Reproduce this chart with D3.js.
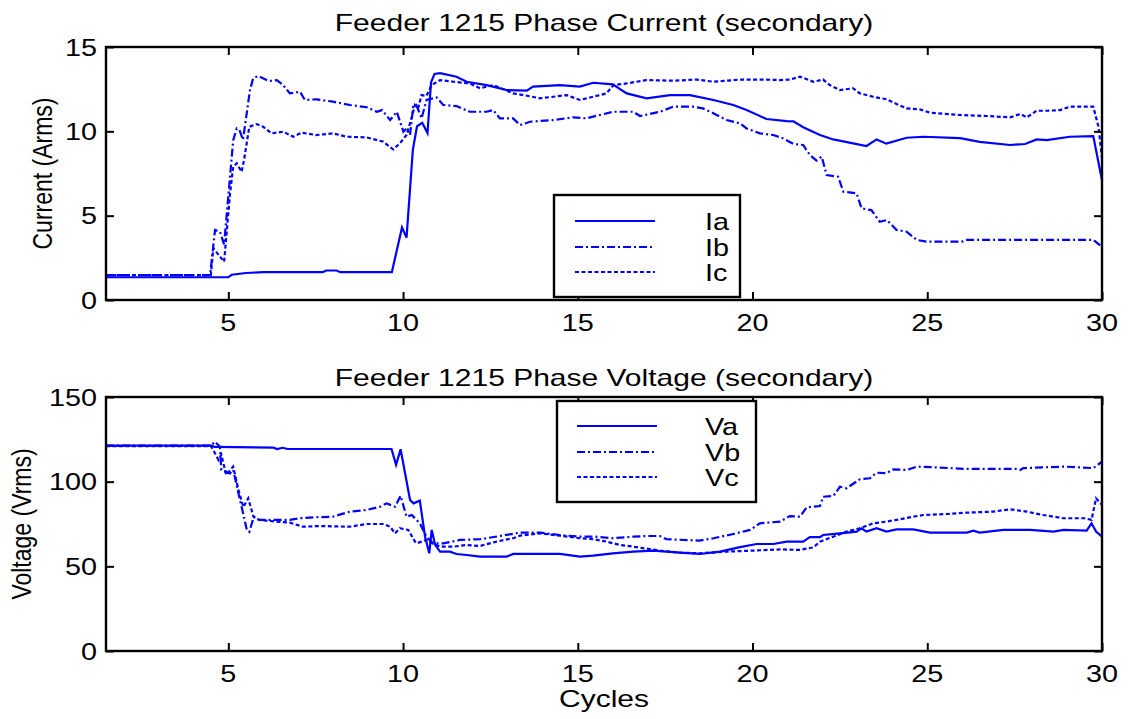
<!DOCTYPE html>
<html>
<head>
<meta charset="utf-8">
<script src="https://cdn.jsdelivr.net/npm/d3@7"></script>
<style>
  body { margin: 0; background: #fff; }
  text { font-family: "Liberation Sans", Arial, sans-serif; font-size: 24px; fill: #000; }
  text.ylab { font-size: 23px; }
</style>
</head>
<body>
<svg id="chart" width="1128" height="719"></svg>
<script>
// Cycle ticks shared by both panels
const cycleTicks = [5, 10, 15, 20, 25, 30];
const currentTicks = [0, 5, 10, 15];
const voltageTicks = [0, 50, 100, 150];

// Phase currents (Arms) as [cycle, value]
const iaData = [[1.5,1.35],[5.0,1.35],[5.1,1.5],[5.5,1.6],[6.0,1.65],[7.7,1.65],[7.8,1.75],[8.1,1.75],[8.2,1.65],[9.68,1.65],[9.97,4.3],[10.1,3.7],[10.28,8.9],[10.4,10.3],[10.55,10.5],[10.7,9.9],[10.8,12.9],[10.9,13.4],[11.06,13.45],[11.53,13.24],[11.82,12.94],[12.39,12.74],[12.96,12.45],[13.54,12.41],[13.72,12.65],[14.49,12.74],[15.06,12.65],[15.44,12.88],[16.0,12.78],[16.4,12.25],[16.97,11.96],[17.64,12.15],[18.21,12.15],[18.88,11.86],[19.45,11.56],[19.83,11.26],[20.4,10.73],[20.98,10.61],[21.17,10.59],[21.45,10.24],[21.93,9.78],[22.31,9.52],[22.88,9.29],[23.26,9.13],[23.55,9.52],[23.83,9.27],[24.41,9.62],[24.89,9.68],[25.94,9.6],[26.5,9.38],[27.37,9.19],[27.8,9.25],[28.13,9.52],[28.42,9.48],[29.08,9.68],[29.75,9.72],[30.0,7.1]];
const ibData = [[1.5,1.48],[4.48,1.48],[4.62,4.15],[4.76,4.05],[4.88,3.3],[5.14,9.48],[5.24,10.17],[5.32,10.07],[5.42,9.5],[5.62,12.45],[5.71,13.14],[5.86,13.28],[6.15,12.98],[6.39,13.03],[6.57,12.74],[6.76,12.25],[7.05,12.35],[7.19,11.86],[7.52,11.9],[7.99,11.76],[8.48,11.56],[8.96,11.43],[9.25,11.16],[9.4,11.26],[9.63,10.67],[9.82,11.16],[10.01,9.98],[10.1,10.17],[10.2,9.78],[10.29,11.46],[10.38,11.56],[10.53,10.77],[10.67,11.86],[10.96,12.01],[11.15,11.56],[11.53,11.5],[11.91,11.16],[12.39,11.16],[12.58,11.26],[12.77,10.77],[13.15,10.77],[13.35,10.37],[13.63,10.57],[14.3,10.67],[14.87,10.83],[15.25,10.77],[15.63,10.97],[16.02,11.16],[16.59,11.16],[16.78,10.91],[17.35,11.16],[17.73,11.46],[18.3,11.46],[18.58,11.36],[18.88,11.07],[19.26,10.67],[19.64,10.47],[19.83,10.17],[20.21,9.88],[20.6,9.78],[20.88,9.58],[21.17,9.25],[21.45,9.19],[21.64,8.6],[21.83,8.26],[21.98,8.5],[22.12,7.41],[22.45,7.31],[22.6,6.42],[22.98,6.32],[23.12,5.43],[23.4,5.33],[23.64,4.64],[23.85,4.74],[24.12,4.15],[24.41,4.05],[24.7,3.56],[24.98,3.46],[26.0,3.46],[26.1,3.56],[29.75,3.56],[30.0,3.16]];
const icData = [[1.5,1.48],[4.5,1.48],[4.57,3.08],[4.75,2.6],[4.88,2.27],[5.05,6.34],[5.14,7.9],[5.24,8.1],[5.38,7.6],[5.45,8.3],[5.6,10.27],[5.81,10.43],[6.0,10.27],[6.24,9.88],[6.57,9.98],[6.86,9.68],[7.1,9.92],[7.52,9.78],[7.99,9.88],[8.39,9.68],[8.96,9.64],[9.43,9.39],[9.72,8.93],[9.91,9.29],[10.1,9.78],[10.24,10.77],[10.34,11.56],[10.43,11.36],[10.53,12.15],[10.67,12.1],[10.82,12.74],[11.06,13.04],[11.44,12.94],[11.91,12.84],[12.2,12.55],[12.58,12.74],[13.15,12.25],[13.44,12.15],[13.92,11.96],[14.3,12.05],[14.68,12.15],[15.06,11.86],[15.44,12.05],[15.82,12.25],[16.02,12.74],[16.4,12.84],[16.97,13.04],[17.73,13.0],[18.4,13.07],[18.88,12.94],[19.64,13.07],[20.3,13.07],[20.78,13.04],[21.07,13.07],[21.36,13.24],[21.74,12.94],[22.02,13.07],[22.21,12.74],[22.5,12.45],[22.88,12.55],[23.07,12.25],[23.45,12.05],[23.83,11.9],[24.12,11.62],[24.41,11.36],[24.79,11.3],[25.08,11.1],[25.94,10.97],[26.7,10.91],[27.37,10.83],[27.66,11.03],[27.85,10.83],[28.13,11.22],[28.42,11.22],[28.8,11.26],[29.08,11.46],[29.75,11.46],[29.9,10.27],[30.0,8.4]];

// Phase voltages (Vrms)
const vaData = [[1.5,121.3],[4.52,121.3],[4.6,120.5],[6.29,120.1],[6.4,119.3],[6.55,120.0],[6.7,119.3],[9.67,119.3],[9.8,109.9],[9.93,119.1],[10.2,89.2],[10.3,87.2],[10.48,88.8],[10.63,67.5],[10.75,57.7],[10.82,71.5],[10.92,62.6],[11.06,58.7],[11.34,58.7],[11.53,57.3],[11.82,56.7],[12.2,55.7],[12.96,55.7],[13.15,57.3],[13.72,57.3],[14.49,57.3],[15.06,55.7],[15.44,56.3],[16.0,57.7],[16.59,58.7],[17.16,59.3],[17.92,58.1],[18.49,57.3],[19.07,58.7],[19.64,61.3],[20.12,63.2],[20.6,63.2],[20.98,64.6],[21.45,64.6],[21.64,67.2],[21.93,67.2],[22.02,68.5],[22.5,69.5],[22.98,70.5],[23.12,72.5],[23.26,70.5],[23.55,72.5],[23.83,70.5],[24.12,71.8],[24.6,71.8],[25.08,69.9],[26.13,69.9],[26.32,71.1],[26.5,69.9],[27.18,71.5],[27.94,71.5],[28.61,70.5],[28.9,71.5],[29.56,71.1],[29.7,75.4],[29.83,70.5],[30.0,67.5]];
const vbData = [[1.5,121.3],[4.5,121.3],[4.62,123.6],[4.76,120.7],[4.8,106.9],[5.05,104.9],[5.14,106.9],[5.29,93.1],[5.38,85.2],[5.53,71.5],[5.6,70.3],[5.73,79.3],[5.9,77.4],[6.76,77.4],[7.05,78.4],[7.52,79.0],[7.99,79.3],[8.48,82.3],[8.96,83.3],[9.34,85.2],[9.53,87.2],[9.77,85.2],[9.93,91.6],[10.1,79.3],[10.25,80.3],[10.48,75.4],[10.67,67.5],[10.86,63.6],[11.15,63.6],[11.63,65.6],[12.2,66.0],[12.77,67.9],[13.35,69.9],[13.92,69.9],[14.49,68.5],[15.06,67.5],[15.5,67.5],[16.0,66.6],[16.59,67.5],[16.97,67.9],[17.35,67.9],[17.54,66.0],[18.49,65.2],[18.88,66.6],[19.45,69.1],[19.93,71.5],[20.21,75.4],[20.79,76.4],[21.07,79.7],[21.36,79.3],[21.55,84.9],[21.93,85.6],[22.02,91.1],[22.31,91.5],[22.5,97.0],[22.69,96.1],[23.07,101.4],[23.36,102.0],[23.55,105.3],[23.83,105.0],[24.03,107.3],[24.41,106.9],[24.7,108.9],[25.18,108.5],[25.65,108.0],[26.03,107.6],[27.18,107.6],[27.56,107.5],[27.66,106.9],[27.75,108.0],[28.42,108.5],[28.9,108.9],[29.75,108.0],[30.0,111.8]];
const vcData = [[1.5,121.0],[4.5,121.0],[4.57,118.7],[4.72,112.8],[4.8,116],[4.94,104.0],[5.14,108.9],[5.29,95.1],[5.43,85.0],[5.57,90.2],[5.72,79.3],[5.88,77.4],[6.39,76.4],[6.76,75.8],[7.14,73.4],[7.6,73.8],[8.48,73.4],[8.96,75.0],[9.43,75.0],[9.63,73.4],[9.77,69.5],[9.91,72.5],[10.15,71.5],[10.34,64.6],[10.39,63.6],[10.67,65.6],[10.8,64],[11.06,61.6],[11.44,61.6],[11.82,62.6],[12.2,62.0],[12.67,64.6],[13.15,66.6],[13.35,68.1],[13.92,69.5],[14.49,68.1],[15.06,66.6],[15.44,66.0],[15.82,64.6],[16.21,62.6],[16.59,61.6],[17.35,59.3],[17.92,58.1],[18.49,57.7],[19.26,58.7],[20.02,59.3],[20.79,60.0],[21.36,59.7],[21.74,61.2],[21.93,64.6],[22.31,67.5],[22.69,70.5],[23.07,72.5],[23.45,75.4],[23.83,76.4],[24.22,77.8],[24.6,79.3],[24.89,80.3],[25.56,80.9],[26.13,81.7],[26.89,82.3],[27.37,83.7],[27.85,82.3],[28.32,80.3],[28.9,78.4],[29.5,78.4],[29.7,77.4],[29.83,90.2],[30.0,86.2]];

const BLUE = "#0000ff";
const SX = 1.2; // the original text is a bit stretched sideways
const dashes = ["none", "8,3,2,3", "4,2.5"];

const svg = d3.select("#chart");

// Text helper: horizontal stretch around the anchor point
function label(g, x, y, str, anchor = "middle", rotate = 0, sx = SX) {
  return g.append("text")
    .attr("transform", `translate(${x},${y}) scale(${sx},1)` + (rotate ? ` rotate(${rotate})` : ""))
    .attr("text-anchor", anchor)
    .text(str);
}

function drawPanel(opts) {
  const { top, bottom, yMax, yTicks, title, titleY, yLabel, yLabelX, series, names, legend } = opts;
  const left = 106, right = 1102;

  const x = d3.scaleLinear().domain([1.5, 30]).range([left, right]);
  const y = d3.scaleLinear().domain([0, yMax]).range([bottom, top]);

  const g = svg.append("g");

  // Data lines, clipped to the axes box
  const clipId = "clip" + top;
  svg.append("clipPath").attr("id", clipId)
    .append("rect").attr("x", left).attr("y", top - 2).attr("width", right - left).attr("height", bottom - top + 4);

  const line = d3.line().x((d) => x(d[0])).y((d) => y(d[1]));
  g.append("g").attr("clip-path", `url(#${clipId})`)
    .selectAll("path")
    .data(series)
    .enter().append("path")
    .attr("d", line)
    .attr("fill", "none")
    .attr("stroke", BLUE)
    .attr("stroke-width", 2.2)
    .attr("stroke-dasharray", (d, i) => dashes[i]);

  // Ticks pointing inward on all four sides (Matlab style)
  const tickLen = 8;
  const axes = [
    d3.axisBottom(x).tickValues(cycleTicks).tickSize(-tickLen).tickFormat(""),
    d3.axisTop(x).tickValues(cycleTicks).tickSize(-tickLen).tickFormat(""),
    d3.axisLeft(y).tickValues(yTicks).tickSize(-tickLen).tickFormat(""),
    d3.axisRight(y).tickValues(yTicks).tickSize(-tickLen).tickFormat("")
  ];
  const shifts = [`0,${bottom}`, `0,${top}`, `${left},0`, `${right},0`];
  axes.forEach((ax, i) => {
    const a = g.append("g").attr("transform", `translate(${shifts[i]})`).call(ax);
    a.select(".domain").remove();
    a.selectAll("line").attr("stroke", "#000").attr("stroke-width", 2);
  });

  g.append("rect")
    .attr("x", left).attr("y", top)
    .attr("width", right - left).attr("height", bottom - top)
    .attr("fill", "none").attr("stroke", "#000").attr("stroke-width", 2.4);

  // Tick labels
  cycleTicks.forEach((t) => label(g, x(t), bottom + 31, t));
  yTicks.forEach((t) => label(g, 97, y(t) + 8.5, t, "end"));

  label(g, (left + right) / 2, titleY, title, "middle", 0, 1.25);
  label(g, yLabelX, (top + bottom) / 2, yLabel, "middle", -90).attr("class", "ylab");

  // Legend box
  const lg = g.append("g");
  lg.append("rect")
    .attr("x", legend.x0).attr("y", legend.y0)
    .attr("width", legend.x1 - legend.x0).attr("height", legend.y1 - legend.y0)
    .attr("fill", "#fff").attr("stroke", "#000").attr("stroke-width", 2.4);
  names.forEach((n, i) => {
    const ly = legend.rows[i];
    lg.append("line")
      .attr("x1", legend.lx0).attr("x2", legend.lx1)
      .attr("y1", ly).attr("y2", ly)
      .attr("stroke", BLUE).attr("stroke-width", 2)
      .attr("stroke-dasharray", dashes[i]);
    label(lg, 705, ly + 8.5, n, "start");
  });
}

drawPanel({
  top: 47, bottom: 300, yMax: 15, yTicks: currentTicks,
  title: "Feeder 1215 Phase Current (secondary)", titleY: 31,
  yLabel: "Current (Arms)", yLabelX: 52,
  series: [iaData, ibData, icData], names: ["Ia", "Ib", "Ic"],
  legend: { x0: 554, x1: 740, y0: 195, y1: 297, lx0: 575, lx1: 655, rows: [221, 247, 272] }
});

drawPanel({
  top: 397, bottom: 651, yMax: 150, yTicks: voltageTicks,
  title: "Feeder 1215 Phase Voltage (secondary)", titleY: 386,
  yLabel: "Voltage (Vrms)", yLabelX: 31,
  series: [vaData, vbData, vcData], names: ["Va", "Vb", "Vc"],
  legend: { x0: 557, x1: 756, y0: 401, y1: 502, lx0: 577, lx1: 657, rows: [426, 452, 477] }
});

label(svg, 604, 707, "Cycles", "middle", 0, 1.25);
</script>
</body>
</html>
